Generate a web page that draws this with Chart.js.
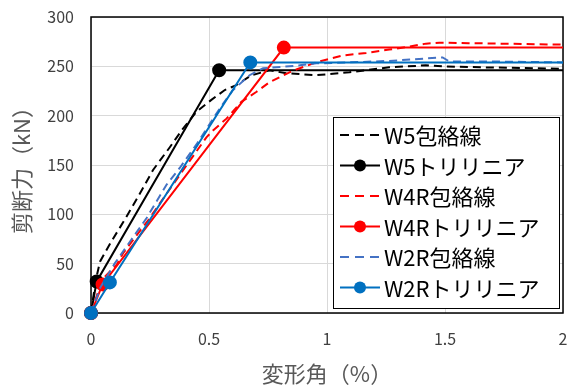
<!DOCTYPE html>
<html>
<head>
<meta charset="utf-8">
<script src="https://cdn.jsdelivr.net/npm/chart.js@4/dist/chart.umd.min.js"></script>
<style>
  html, body { margin: 0; padding: 0; background: #fff; }
  #wrap { width: 568px; height: 387px; }
</style>
</head>
<body>
<div id="wrap"><canvas id="chart"></canvas></div>
<script>
// series names (legend order)
const seriesNames = ['W5包絡線', 'W5トリリニア', 'W4R包絡線', 'W4Rトリリニア', 'W2R包絡線', 'W2Rトリリニア'];

// W5 envelope
const w5EnvX = [0, 0.02, 0.038, 0.08, 0.144, 0.2, 0.263, 0.334, 0.39, 0.447, 0.51, 0.567, 0.616, 0.68, 0.757, 0.827, 0.954, 1.095, 1.264, 1.419, 1.49, 1.66, 2.0];
const w5EnvY = [0, 33, 52, 70, 95, 118, 145, 168, 187, 204, 216, 226, 231, 241, 246, 243, 241, 244, 249, 251, 250, 249, 247.5];
// W5 trilinear
const w5TriX = [0, 0.024, 0.543, 2.0];
const w5TriY = [0, 32, 246, 246];

// W4R envelope
const w4rEnvX = [0, 0.031, 0.052, 0.109, 0.137, 0.172, 0.242, 0.3, 0.4, 0.489, 0.517, 0.574, 0.637, 0.70, 0.757, 0.85, 0.954, 1.067, 1.166, 1.264, 1.349, 1.419, 1.476, 1.6, 2.0];
const w4rEnvY = [0, 22, 35, 49, 61, 72, 94, 114, 148, 178, 185, 197, 214, 224, 234, 245, 254, 261, 263.5, 267, 270, 273, 274, 273.5, 272];
// W4R trilinear
const w4rTriX = [0, 0.049, 0.817, 2.0];
const w4rTriY = [0, 29, 269, 269];

// W2R envelope
const w2rEnvX = [0, 0.04, 0.1, 0.17, 0.235, 0.32, 0.376, 0.45, 0.553, 0.602, 0.672, 0.729, 0.813, 0.884, 0.954, 1.095, 1.264, 1.419, 1.49, 1.518, 1.66, 2.0];
const w2rEnvY = [0, 26, 50, 74, 96, 130, 147, 172, 210, 226, 241, 248, 249.5, 251, 253, 254, 255.5, 258, 259, 255, 255, 254];
// W2R trilinear
const w2rTriX = [0, 0.08, 0.675, 2.0];
const w2rTriY = [0, 31, 254, 254];

// axis ticks
const xTicks = [0, 0.5, 1, 1.5, 2];
const yTicks = [0, 50, 100, 150, 200, 250, 300];

const toPts = (xs, ys) => xs.map((x, i) => ({ x: x, y: ys[i] }));

const colors = ['#000000', '#000000', '#FF0000', '#FF0000', '#4472C4', '#0070C0'];
const dashed = [true, false, true, false, true, false];
const seriesData = [
  toPts(w5EnvX, w5EnvY), toPts(w5TriX, w5TriY),
  toPts(w4rEnvX, w4rEnvY), toPts(w4rTriX, w4rTriY),
  toPts(w2rEnvX, w2rEnvY), toPts(w2rTriX, w2rTriY)
];

const datasets = seriesNames.map((name, i) => ({
  label: name,
  data: seriesData[i],
  borderColor: colors[i],
  backgroundColor: colors[i],
  borderWidth: 2,
  borderDash: dashed[i] ? [8, 5] : [],
  pointRadius: dashed[i] ? 0 : [6, 6, 6, 0],
  pointHoverRadius: 0,
  tension: 0,
  clip: false,
  order: seriesNames.length - i
}));

// box around plot area
const frame = {
  id: 'frame',
  beforeDatasetsDraw(chart) {
    const { ctx, chartArea: a } = chart;
    ctx.save();
    ctx.strokeStyle = '#000';
    ctx.lineWidth = 1.5;
    ctx.strokeRect(a.left, a.top, a.right - a.left, a.bottom - a.top);
    ctx.restore();
  }
};

// legend box in lower right of plot
const boxLegend = {
  id: 'boxLegend',
  afterDraw(chart) {
    const ctx = chart.ctx;
    const x0 = 333, y0 = 117, w = 226, h = 191;
    ctx.save();
    ctx.fillStyle = '#fff';
    ctx.fillRect(x0, y0, w, h);
    ctx.strokeStyle = '#000';
    ctx.lineWidth = 1;
    ctx.strokeRect(x0 + 0.5, y0 + 0.5, w, h);
    ctx.font = '22px "Noto Sans CJK JP", sans-serif';
    ctx.textBaseline = 'middle';
    seriesNames.forEach((name, i) => {
      const cy = y0 + 18 + i * 30.5;
      ctx.strokeStyle = colors[i];
      ctx.fillStyle = colors[i];
      ctx.lineWidth = 2;
      ctx.setLineDash(dashed[i] ? [9, 6] : []);
      ctx.beginPath();
      ctx.moveTo(x0 + 7, cy);
      ctx.lineTo(x0 + 47, cy);
      ctx.stroke();
      ctx.setLineDash([]);
      if (!dashed[i]) {
        ctx.beginPath();
        ctx.arc(x0 + 27, cy, 6, 0, Math.PI * 2);
        ctx.fill();
      }
      ctx.fillStyle = '#000';
      ctx.fillText(name, x0 + 51, cy + 1);
    });
    ctx.restore();
  }
};

new Chart(document.getElementById('chart'), {
  type: 'line',
  data: { datasets: datasets },
  options: {
    responsive: true,
    maintainAspectRatio: false,
    animation: false,
    layout: { autoPadding: false, padding: { top: 17, right: 5, left: 0, bottom: 0 } },
    plugins: {
      legend: { display: false },
      tooltip: { enabled: false }
    },
    scales: {
      x: {
        type: 'linear',
        min: 0,
        max: 2,
        afterBuildTicks: s => { s.ticks = xTicks.map(v => ({ value: v })); },
        afterFit: s => { s.height = 74; s.paddingLeft = 0; s.paddingRight = 0; },
        grid: { color: '#d9d9d9', lineWidth: 1, drawTicks: false },
        border: { display: false },
        ticks: {
          padding: 16,
          color: '#404040',
          callback: v => String(v),
          font: { family: '"Noto Sans CJK JP", sans-serif', size: 16 }
        },
        title: {
          display: true,
          text: '変形角（%）',
          color: '#595959',
          font: { family: '"Noto Sans CJK JP", sans-serif', size: 22 },
          padding: { top: 0, bottom: 0 }
        }
      },
      y: {
        min: 0,
        max: 300,
        afterBuildTicks: s => { s.ticks = yTicks.map(v => ({ value: v })); },
        afterFit: s => { s.width = 91; s.paddingTop = 0; s.paddingBottom = 0; },
        grid: { color: '#d9d9d9', lineWidth: 1, drawTicks: false },
        border: { display: false },
        ticks: {
          padding: 17,
          color: '#404040',
          callback: v => String(v),
          font: { family: '"Noto Sans CJK JP", sans-serif', size: 16 }
        },
        title: {
          display: true,
          text: '剪断力（kN）',
          color: '#595959',
          font: { family: '"Noto Sans CJK JP", sans-serif', size: 22 },
          padding: { top: 8, bottom: 0 }
        }
      }
    }
  },
  plugins: [frame, boxLegend]
});
</script>
</body>
</html>
